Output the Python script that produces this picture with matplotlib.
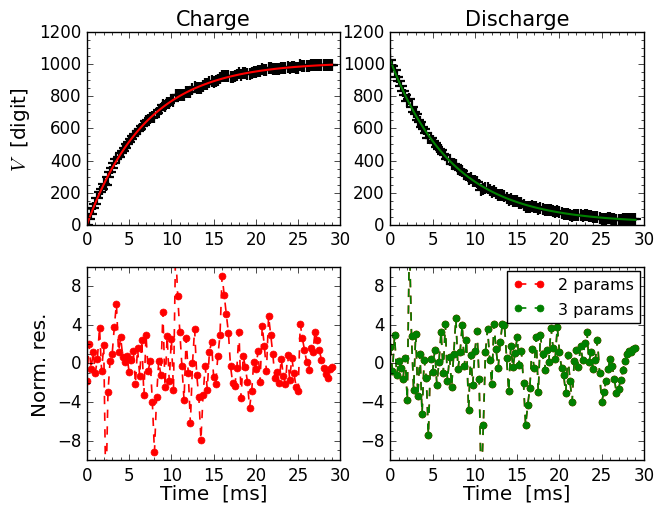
import numpy as np
import matplotlib
matplotlib.use("Agg")
import matplotlib.pyplot as plt
from matplotlib.ticker import MultipleLocator

plt.style.use("classic")
plt.rcParams["font.family"] = ["DejaVu Sans"]
plt.rcParams["mathtext.fontset"] = "cm"
plt.rcParams["figure.facecolor"] = "white"
plt.rcParams["savefig.facecolor"] = "white"

# ---------------- data ----------------
# sampling grid [ms], 0.25 ms steps from 0 to 29 ms
time_ms = np.arange(117) * 0.25

# fitted charge curve [digit]
charge_fit = [
    0.0, 35.5, 69.7, 102.8,
    134.7, 165.5, 195.2, 223.8,
    251.5, 278.2, 303.9, 328.7,
    352.8, 375.9, 398.2, 419.7,
    440.5, 460.6, 479.9, 498.6,
    516.6, 534.0, 550.7, 566.9,
    582.5, 597.6, 612.1, 626.2,
    639.7, 652.8, 665.4, 677.5,
    689.3, 700.6, 711.5, 722.0,
    732.2, 742.0, 751.5, 760.6,
    769.5, 778.0, 786.2, 794.1,
    801.8, 809.1, 816.2, 823.1,
    829.7, 836.1, 842.3, 848.3,
    854.0, 859.6, 864.9, 870.1,
    875.0, 879.8, 884.5, 888.9,
    893.3, 897.4, 901.5, 905.3,
    909.1, 912.7, 916.2, 919.5,
    922.8, 925.9, 928.9, 931.8,
    934.7, 937.4, 940.0, 942.5,
    945.0, 947.3, 949.6, 951.8,
    953.9, 955.9, 957.9, 959.8,
    961.6, 963.4, 965.1, 966.7,
    968.3, 969.9, 971.3, 972.8,
    974.1, 975.5, 976.7, 978.0,
    979.2, 980.3, 981.4, 982.5,
    983.5, 984.5, 985.5, 986.4,
    987.3, 988.2, 989.0, 989.8,
    990.6, 991.4, 992.1, 992.8,
    993.5, 994.1, 994.7, 995.3,
    995.9,
]

# fitted discharge curve [digit]
discharge_fit = [
    1022.0, 988.0, 955.1, 923.4,
    892.7, 863.1, 834.4, 806.7,
    780.0, 754.1, 729.1, 705.0,
    681.6, 659.1, 637.3, 616.3,
    595.9, 576.3, 557.3, 538.9,
    521.2, 504.0, 487.5, 471.4,
    456.0, 441.0, 426.6, 412.6,
    399.1, 386.1, 373.5, 361.3,
    349.6, 338.2, 327.2, 316.6,
    306.4, 296.5, 286.9, 277.6,
    268.7, 260.0, 251.7, 243.6,
    235.8, 228.3, 221.0, 214.0,
    207.2, 200.6, 194.2, 188.1,
    182.2, 176.5, 170.9, 165.6,
    160.4, 155.4, 150.6, 145.9,
    141.4, 137.0, 132.8, 128.8,
    124.8, 121.0, 117.4, 113.8,
    110.4, 107.1, 103.9, 100.8,
    97.8, 94.9, 92.1, 89.4,
    86.8, 84.3, 81.9, 79.5,
    77.2, 75.0, 72.9, 70.9,
    68.9, 67.0, 65.1, 63.3,
    61.6, 59.9, 58.3, 56.8,
    55.3, 53.8, 52.4, 51.0,
    49.7, 48.4, 47.2, 46.0,
    44.9, 43.8, 42.7, 41.7,
    40.7, 39.7, 38.8, 37.9,
    37.0, 36.2, 35.4, 34.6,
    33.8, 33.1, 32.4, 31.7,
    31.0,
]

# normalized residuals, charge (2-parameter fit)
charge_res = [
    -1.8, 2.0, -0.6, 1.2,
    -1.0, 0.5, 3.7, -0.8,
    1.9, -14.0, -3.0, 0.3,
    1.0, 3.8, 6.2, 1.2,
    2.7, 0.7, 0.2, 0.8,
    -0.9, 0.4, 1.3, -2.1,
    1.6, -1.3, 2.4, -3.3,
    3.0, -0.8, 0.3, -4.0,
    -9.2, -3.5, 0.3, -1.2,
    5.3, -2.4, 2.8, -1.8,
    2.5, -2.7, 12.0, 7.0,
    3.3, -0.3, -3.8, 2.6,
    -1.0, -6.2, 0.0, 3.6,
    -1.2, -3.5, -7.9, -3.3,
    -0.3, -2.7, 1.2, 2.2,
    -1.4, -2.1, 0.8, 2.9,
    9.1, 7.1, 5.1, 3.2,
    -0.3, -2.0, -2.3, -0.5,
    3.3, -3.6, 0.8, -0.4,
    -1.9, -4.6, -2.9, 0.2,
    -0.6, 1.3, -1.9, 3.9,
    1.8, -0.8, 4.9, 3.0,
    1.0, -1.5, -0.9, -2.0,
    0.5, -1.3, -2.1, 0.9,
    -1.7, 0.6, -1.0, -2.4,
    -2.9, 4.1, 2.6, 1.4,
    0.2, -0.7, 1.6, 1.2,
    3.3, 2.4, 1.4, 0.4,
    -0.5, -1.1, -1.5, -0.6,
    -0.4,
]

# normalized residuals, discharge (3-parameter fit)
discharge_res3 = [
    1.7, -0.8, 2.9, -1.2,
    0.3, -0.5, -1.6, 0.6,
    -3.8, 13.0, 2.8, -2.7,
    3.1, -3.4, 1.0, -5.2,
    0.4, -1.5, -7.4, 0.5,
    -0.9, 1.4, -2.2, 0.2,
    3.3, -1.0, 4.1, -1.8,
    0.7, -2.4, 1.0, 4.7,
    -0.6, 1.2, 4.0, -0.3,
    2.4, -4.8, 0.9, -2.2,
    1.3, 3.4, -1.6, -13.0,
    -6.4, 1.2, 3.6, 0.4,
    -2.1, 4.1, 1.5, -0.5,
    2.2, 4.1, 4.0, 0.6,
    -2.9, 1.8, -0.4, 1.1,
    2.7, -0.2, 1.3, -2.0,
    -6.4, -4.3, -2.5, 1.5,
    -0.5, 2.7, -3.0, 3.0,
    1.0, -0.7, 1.4, 0.2,
    3.7, 1.6, 0.5, 3.8,
    1.2, -0.5, -1.2, -3.1,
    0.9, -1.8, -4.0, 0.3,
    1.4, -0.4, 1.8, 0.4,
    2.1, 3.3, 0.2, 1.2,
    -0.6, 0.4, 2.4, -1.0,
    -4.0, -3.0, -1.8, -0.6,
    0.5, -0.3, -1.6, -3.1,
    -2.6, -1.7, -0.7, 0.3,
    1.0, 1.3, 1.2, 1.5,
    1.6,
]

# discharge residuals of the 2-parameter fit (virtually identical)
discharge_res2 = list(discharge_res3)

noise_sigma = 2.0  # digit, scale of the normalized residuals

charge_fit = np.array(charge_fit)
discharge_fit = np.array(discharge_fit)
charge_res = np.array(charge_res)
discharge_res3 = np.array(discharge_res3)
discharge_res2 = np.array(discharge_res2)

charge_data = charge_fit + noise_sigma * charge_res
discharge_data = discharge_fit + noise_sigma * discharge_res3

# ---------------- figure ----------------
fig, axes = plt.subplots(2, 2, figsize=(6.68, 5.06), dpi=100)
fig.subplots_adjust(left=0.130, right=0.964, bottom=0.089, top=0.935,
                    wspace=0.197, hspace=0.218)
(ax1, ax2), (ax3, ax4) = axes

ax1.plot(time_ms, charge_data, "+", color="black", ms=8, mew=1.6)
ax1.plot(time_ms, charge_fit, "-", color="red", lw=1.5)
ax1.set_title("Charge", fontsize=15)
ax1.set_ylabel("$V$  [digit]", fontsize=14.4)

ax2.plot(time_ms, discharge_data, "+", color="black", ms=8, mew=1.6)
ax2.plot(time_ms, discharge_fit, "-", color="green", lw=1.5)
ax2.set_title("Discharge", fontsize=15)

for ax in (ax1, ax2):
    ax.set_xlim(0, 30)
    ax.set_ylim(0, 1200)
    ax.xaxis.set_major_locator(MultipleLocator(5))
    ax.xaxis.set_minor_locator(MultipleLocator(1))
    ax.yaxis.set_major_locator(MultipleLocator(200))
    ax.yaxis.set_minor_locator(MultipleLocator(50))

ax3.plot(time_ms, charge_res, "o--", color="red", ms=5, lw=1.2,
         mec="red")
ax3.set_ylabel("Norm. res.", fontsize=14.4)

ax4.plot(time_ms, discharge_res2, "o--", color="red", ms=5, lw=1.2,
         mec="red", label="2 params")
ax4.plot(time_ms, discharge_res3, "o--", color="green", ms=5, lw=1.2,
         mec="green", label="3 params")
leg = ax4.legend(loc="upper right", numpoints=2, fontsize=11.5,
                 fancybox=False, framealpha=1, handlelength=2.0,
                 borderaxespad=0.25, labelspacing=0.6)
leg.get_frame().set_edgecolor("black")

for ax in (ax3, ax4):
    ax.set_xlim(0, 30)
    ax.set_ylim(-10, 10)
    ax.set_yticks([-8, -4, 0, 4, 8])
    ax.xaxis.set_major_locator(MultipleLocator(5))
    ax.xaxis.set_minor_locator(MultipleLocator(1))
    ax.yaxis.set_minor_locator(MultipleLocator(1))
    ax.set_xlabel("Time  [ms]", fontsize=14.4, labelpad=0)

for ax in axes.flat:
    ax.tick_params(which="both", direction="in", top=True, right=True,
                   labelsize=12)
    ax.tick_params(which="major", length=4)
    ax.tick_params(which="minor", length=2)

fig.savefig("out.png", dpi=100)
